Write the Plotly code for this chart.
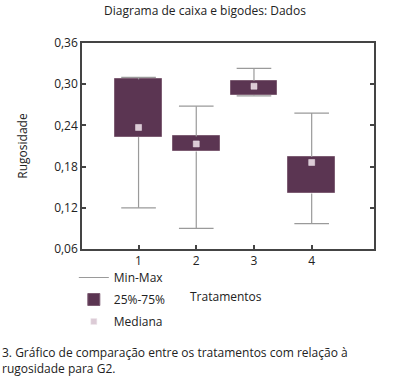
import plotly.graph_objects as go

categories = [1, 2, 3, 4]
mins = [0.120, 0.090, 0.283, 0.097]
q1 = [0.223, 0.202, 0.284, 0.141]
medians = [0.237, 0.213, 0.297, 0.186]
q3 = [0.307, 0.224, 0.305, 0.194]
maxs = [0.310, 0.268, 0.323, 0.258]
y_ticks = [0.06, 0.12, 0.18, 0.24, 0.30, 0.36]

BOX_W = 0.81
CAP = 0.30
FILL = "#5b3552"
EDGE = "#7d5d73"
WHISK = "#9a9a9a"
MED = "#dccbd6"
FONT = "Open Sans"

W, H = 400, 379
ML, MR, MT, MB = 82, 26, 43, 130
PW = W - ML - MR
PH = H - MT - MB

# whisker segments built from data
wx, wy = [], []
for c, lo, a, b, hi in zip(categories, mins, q1, q3, maxs):
    wx += [c, c, None, c, c, None, c - CAP, c + CAP, None, c - CAP, c + CAP, None]
    wy += [lo, a, None, b, hi, None, lo, lo, None, hi, hi, None]

fig = go.Figure()
fig.add_trace(go.Bar(
    x=categories, y=[b - a for a, b in zip(q1, q3)], base=q1, width=BOX_W,
    marker=dict(color=FILL, line=dict(color=EDGE, width=1)),
    name="25%-75%", legendgroup="b", legendrank=2, hoverinfo="skip"))
fig.add_trace(go.Scatter(
    x=wx, y=wy, mode="lines", line=dict(color=WHISK, width=1.2),
    name="Min-Max", legendgroup="a", legendrank=1, hoverinfo="skip"))
fig.add_trace(go.Scatter(
    x=categories, y=medians, mode="markers",
    marker=dict(symbol="square", size=6, color=MED, line=dict(color="#efe6ec", width=0.5)),
    name="Mediana", legendgroup="c", legendrank=3))

fig.update_layout(
    width=W, height=H, margin=dict(l=ML, r=MR, t=MT, b=MB),
    paper_bgcolor="white", plot_bgcolor="white",
    separators=",.",
    font=dict(family=FONT, size=12, color="#222"),
    title=dict(text="Diagrama de caixa e bigodes: Dados", x=0.5125, xanchor="center",
               y=1 - 11 / H, yanchor="middle", font=dict(size=12, color="#222")),
    showlegend=True,
    legend=dict(x=-0.028, xanchor="left", y=-0.068, yanchor="top",
                tracegroupgap=3, font=dict(size=12), itemwidth=30,
                bgcolor="rgba(0,0,0,0)"),
    bargap=0,
)
fig.update_xaxes(range=[0.02, 5.08], tickvals=categories, ticktext=[str(c) for c in categories],
                 ticks="inside", ticklen=4, tickcolor="#444", tickwidth=1.5,
                 showline=True, linecolor="#444", linewidth=1.5, mirror=True,
                 showgrid=False, zeroline=False, tickfont=dict(size=12))
fig.update_yaxes(range=[0.06, 0.36], tickvals=y_ticks, tickformat=".2f",
                 ticks="inside", ticklen=4, tickcolor="#444", tickwidth=1.5,
                 showline=True, linecolor="#444", linewidth=1.5, mirror="ticks",
                 showgrid=False, zeroline=False, tickfont=dict(size=12),
                 title=dict(text="Rugosidade", font=dict(size=12), standoff=24))

fig.add_annotation(text="Tratamentos", xref="paper", yref="paper",
                   x=(226 - ML) / PW, y=(MT + PH - 296) / PH,
                   showarrow=False, xanchor="center", yanchor="middle",
                   font=dict(size=12))
fig.add_annotation(text="3. Gráfico de comparação entre os tratamentos com relação à<br>rugosidade para G2.",
                   xref="paper", yref="paper", x=(0 - ML) / PW, y=(MT + PH - 342) / PH,
                   showarrow=False, xanchor="left", yanchor="top", align="left",
                   font=dict(size=12))

fig.write_html("out.html", config={"displayModeBar": False},
               post_script="document.body.style.margin='0';")
